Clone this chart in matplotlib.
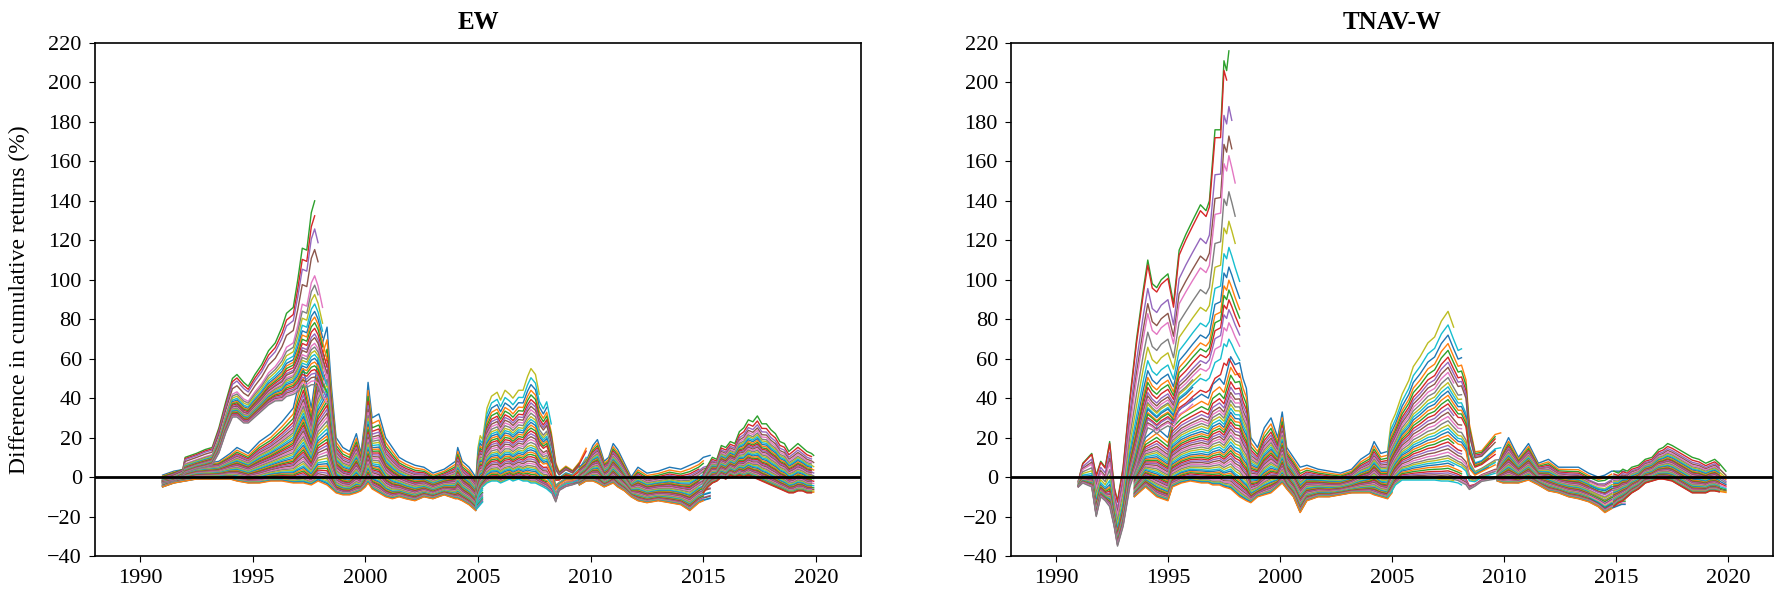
import numpy as np
import matplotlib.pyplot as plt

plt.rcParams['font.family'] = 'serif'
plt.rcParams['font.serif'] = ['Liberation Serif', 'DejaVu Serif']

# ---------------- EW panel ----------------
# upper fan: lines that stop around 1998
ew_fan_years = [1991.0, 1991.5, 1991.9, 1992.0, 1992.5, 1992.9, 1993.2, 1993.5, 1993.8, 1994.1,
                1994.3, 1994.6, 1994.8, 1995.1, 1995.4, 1995.7, 1996.0, 1996.3, 1996.5, 1996.8,
                1997.0, 1997.2, 1997.4, 1997.6, 1997.75, 1997.9, 1998.1, 1998.3]
ew_fan_top = [0, 2, 4, 10, 12, 14, 15, 25, 38, 50, 52, 48, 46, 52, 57, 64, 68, 76, 83, 86,
              100, 116, 115, 134, 140, 132, 118, 100]
ew_fan_bot = [-3, -2, 0, 2, 4, 5, 6, 12, 22, 30, 30, 27, 27, 30, 33, 36, 38, 38, 40, 41,
              42, 45, 44, 45, 45, 44, 38, 35]
ew_fan_levels = [1.0, 0.92, 0.85, 0.74, 0.6, 0.55, 0.5, 0.45, 0.41, 0.38, 0.35, 0.32, 0.29,
                 0.27, 0.24, 0.22, 0.2, 0.18, 0.16, 0.14, 0.12, 0.1, 0.08, 0.06, 0.04, 0.02]
ew_fan_ends = [1997.75, 1997.85, 1997.95, 1998.0, 1998.1, 1998.05, 1998.15, 1998.2, 1998.25,
               1998.3, 1998.2, 1998.3, 1998.25, 1998.3, 1998.3, 1998.2, 1998.1, 1998.3, 1998.25,
               1998.2, 1998.3, 1998.15, 1998.3, 1998.25, 1998.3, 1998.2]

# main band 1991-2005
ew_b1_years = [1991.0, 1991.5, 1992.0, 1992.5, 1993.0, 1993.5, 1994.0, 1994.3, 1994.8, 1995.3,
               1995.8, 1996.3, 1996.8, 1997.0, 1997.25, 1997.6, 1997.9, 1998.3, 1998.5, 1998.7,
               1999.0, 1999.3, 1999.6, 1999.8, 2000.0, 2000.12, 2000.3, 2000.6, 2000.9, 2001.2,
               2001.5, 2001.8, 2002.2, 2002.6, 2003.0, 2003.5, 2004.0, 2004.1, 2004.3, 2004.6,
               2004.9, 2005.2]
ew_b1_top = [1, 3, 4, 6, 7, 8, 12, 15, 12, 18, 22, 28, 35, 45, 55, 35, 60, 76, 45, 20,
             15, 13, 22, 12, 30, 48, 30, 32, 20, 15, 10, 8, 6, 5, 2, 4, 8, 15, 8, 5, 0, 5]
ew_b1_bot = [-5, -3, -2, -1, -1, -1, -1, -2, -3, -3, -2, -2, -3, -3, -3, -4, -2, -4, -6, -8,
             -9, -9, -8, -7, -5, -3, -6, -8, -10, -11, -10, -11, -12, -10, -11, -9, -11, -11, -12, -14,
             -17, -13]
ew_b1_ends = [2005.1, 2004.9, 2005.3, 2005.0, 2005.2]

# band 2005-2010
ew_b2_years = [2004.9, 2005.0, 2005.1, 2005.2, 2005.4, 2005.6, 2005.85, 2006.0, 2006.2, 2006.4,
               2006.55, 2006.8, 2007.0, 2007.2, 2007.35, 2007.55, 2007.72, 2007.9, 2008.05, 2008.25,
               2008.45, 2008.6, 2008.9, 2009.2, 2009.5, 2009.8]
ew_b2_top = [-2, 15, 21, 19, 35, 41, 43, 39, 44, 42, 40, 44, 44, 51, 55, 52, 42, 38, 42, 30,
             12, 5, 8, 5, 10, 18]
ew_b2_bot = [-15, -10, -7, -5, -3, -2, -2, -3, -2, -1, -2, -1, -2, -2, -3, -3, -4, -5, -6, -8,
             -13, -7, -5, -4, -3, 0]
ew_b2_ends = [2007.75, 2008.3, 2008.1, 2009.8, 2009.6, 2009.85, 2009.4, 2009.7]

# band 2010-2015
ew_b3_years = [2009.5, 2009.8, 2010.1, 2010.3, 2010.6, 2010.8, 2011.0, 2011.2, 2011.5, 2011.8,
               2012.1, 2012.5, 2013.0, 2013.5, 2014.0, 2014.4, 2014.8, 2015.0, 2015.3]
ew_b3_top = [5, 8, 16, 19, 8, 10, 17, 14, 7, 0, 5, 2, 3, 5, 4, 6, 8, 10, 11]
ew_b3_bot = [-4, -2, -2, -3, -5, -4, -3, -5, -7, -10, -12, -13, -12, -13, -14, -17, -13, -12, -11]
ew_b3_ends = [2015.3, 2015.1, 2015.25, 2014.9, 2015.35]

# band 2015-2020
ew_b4_years = [2015.0, 2015.2, 2015.4, 2015.6, 2015.8, 2016.0, 2016.2, 2016.4, 2016.6, 2016.8,
               2017.0, 2017.2, 2017.4, 2017.6, 2017.8, 2018.0, 2018.2, 2018.4, 2018.6, 2018.8,
               2019.0, 2019.2, 2019.4, 2019.6, 2019.8, 2019.9]
ew_b4_top = [2, 6, 10, 9, 16, 15, 18, 17, 23, 25, 29, 28, 31, 27, 27, 24, 22, 18, 17, 13,
             15, 17, 15, 13, 12, 11]
ew_b4_bot = [-8, -5, -3, -2, 0, -1, 1, 0, 1, 0, 1, 0, -1, -2, -3, -4, -5, -6, -7, -8,
             -8, -7, -7, -8, -8, -8]
ew_b4_ends = [2019.9, 2019.8, 2019.85]

# ---------------- TNAV-W panel ----------------
tn_fan_years = [1991.0, 1991.2, 1991.6, 1991.8, 1992.0, 1992.2, 1992.4, 1992.6, 1992.75, 1993.0,
                1993.3, 1993.6, 1993.9, 1994.1, 1994.3, 1994.5, 1994.7, 1995.0, 1995.25, 1995.5,
                1995.8, 1996.1, 1996.45, 1996.7, 1996.85, 1997.1, 1997.35, 1997.5, 1997.62, 1997.72,
                1997.85, 1998.0, 1998.2, 1998.5]
tn_fan_top = [-2, 7, 12, 1, 8, 5, 18, -5, -12, 5, 40, 70, 95, 110, 98, 96, 100, 103, 88, 115,
              123, 130, 138, 135, 140, 176, 176, 211, 206, 216, 208, 198, 185, 165]
tn_fan_bot = [-5, -3, -5, -20, -10, -12, -15, -25, -35, -25, -5, 5, 18, 25, 24, 22, 24, 26, 24, 30,
              32, 35, 38, 37, 38, 42, 44, 48, 47, 50, 48, 45, 42, 35]
tn_fan_levels = [1.0, 0.97, 0.83, 0.74, 0.68, 0.57, 0.48, 0.4, 0.34, 0.3, 0.27, 0.24, 0.21,
                 0.19, 0.17, 0.15, 0.14, 0.12, 0.11, 0.09, 0.08, 0.06, 0.05, 0.03, 0.02, 0.0]
tn_fan_ends = [1997.72, 1997.7, 1997.9, 1997.95, 1998.0, 1998.1, 1998.15, 1998.23, 1998.3,
               1998.35, 1998.41, 1998.4, 1998.41, 1996.45, 1998.3, 1996.4, 1996.45, 1998.4,
               1996.35, 1996.4, 1995.3, 1998.2, 1996.4, 1995.3, 1996.3, 1995.3]

tn_b1_years = [1993.5, 1994.0, 1994.5, 1995.0, 1995.2, 1995.6, 1996.0, 1996.5, 1996.8, 1997.0,
               1997.3, 1997.5, 1997.8, 1998.0, 1998.2, 1998.35, 1998.5, 1998.7, 1999.0, 1999.3,
               1999.6, 1999.9, 2000.1, 2000.3, 2000.6, 2000.9, 2001.2, 2001.7, 2002.2, 2002.7,
               2003.2, 2003.6, 2004.0, 2004.2, 2004.5, 2004.8, 2005.0]
tn_b1_top = [5, 20, 25, 20, 30, 35, 38, 42, 40, 47, 50, 47, 61, 57, 58, 50, 45, 20, 15, 25,
             30, 20, 33, 15, 10, 5, 6, 4, 3, 2, 4, 9, 12, 18, 12, 13, 15]
tn_b1_bot = [-10, -5, -10, -12, -5, -3, -2, -3, -3, -4, -4, -5, -6, -8, -10, -11, -12, -13, -10, -9,
             -8, -5, -3, -6, -10, -18, -12, -10, -10, -9, -8, -8, -8, -9, -10, -11, -8]
tn_b1_ends = [2004.9, 2005.0, 2004.8, 2005.0]

tn_b2_years = [2004.8, 2004.95, 2005.15, 2005.45, 2005.75, 2005.95, 2006.25, 2006.6, 2006.9, 2007.2,
               2007.5, 2007.75, 2007.95, 2008.1, 2008.3, 2008.45, 2008.7, 2009.0, 2009.3, 2009.6,
               2009.85]
tn_b2_top = [13, 27, 32, 42, 49, 56, 61, 68, 71, 79, 84, 76, 70, 71, 62, 35, 17, 17, 22, 27, 28]
tn_b2_bot = [-10, -8, -4, -1.5, -1.5, -1.5, -1.5, -1.5, -1.5, -2, -2, -2.5, -3, -4, -5, -7, -5,
             -2.5, -2, -1.5, -1.5]
tn_b2_ends = [2007.75, 2008.27, 2008.2, 2009.85, 2009.6, 2009.8, 2009.4, 2009.7]

tn_b3_years = [2009.7, 2009.95, 2010.2, 2010.64, 2011.09, 2011.53, 2011.98, 2012.43, 2012.88, 2013.32,
               2013.77, 2014.2, 2014.5, 2014.8, 2015.25, 2015.4]
tn_b3_top = [6, 14, 20, 10, 17, 7, 9, 5, 5, 5, 2, 0, 1, 3, 3, 3]
tn_b3_bot = [-2, -3, -3, -3, -1.5, -4, -7, -8, -10, -11, -12.5, -15, -18, -16, -14, -14]
tn_b3_ends = [2015.4, 2015.2, 2015.3, 2014.0]

tn_b4_years = [2014.9, 2015.1, 2015.3, 2015.5, 2015.7, 2016.0, 2016.3, 2016.6, 2016.9, 2017.1,
               2017.3, 2017.5, 2017.8, 2018.1, 2018.4, 2018.7, 2019.0, 2019.2, 2019.4, 2019.6, 2019.9]
tn_b4_top = [3, 2, 4, 3, 5, 6, 9, 10, 14, 15, 17, 16, 14, 12, 10, 9, 7, 8, 9, 7, 3]
tn_b4_bot = [-15, -13, -12, -10, -8, -6, -3, -2, -1, -1, -1.5, -2, -4, -6, -8, -8, -8, -7, -7, -7.5, -8]
tn_b4_ends = [2019.9, 2019.85, 2019.8]

# relative position of each line inside a band (1 = upper edge, 0 = lower edge)
band_levels = [1.0, 0.92, 0.86, 0.81, 0.77, 0.73, 0.7, 0.67, 0.64, 0.61, 0.58, 0.555, 0.53,
               0.505, 0.48, 0.455, 0.43, 0.405, 0.38, 0.355, 0.33, 0.31, 0.29, 0.27, 0.25, 0.23,
               0.21, 0.19, 0.17, 0.15, 0.135, 0.12, 0.105, 0.09, 0.075, 0.06, 0.048, 0.036,
               0.026, 0.017, 0.009, 0.0]


def draw_group(ax, years, top, bot, levels, ends):
    years = np.array(years, dtype=float)
    top = np.array(top, dtype=float)
    bot = np.array(bot, dtype=float)
    for i, lev in enumerate(levels):
        end = ends[i % len(ends)]
        keep = years <= end
        x = years[keep]
        y = bot[keep] + lev * (top[keep] - bot[keep])
        ax.plot(x, y, lw=1.0)


fig = plt.figure(figsize=(17.76, 5.92), dpi=100)
ax1 = fig.add_axes([0.0535, 0.0608, 0.4313, 0.8666])
ax2 = fig.add_axes([0.5693, 0.0608, 0.4290, 0.8666])

draw_group(ax1, ew_b1_years, ew_b1_top, ew_b1_bot, band_levels, ew_b1_ends)
draw_group(ax1, ew_fan_years, ew_fan_top, ew_fan_bot, ew_fan_levels, ew_fan_ends)
draw_group(ax1, ew_b2_years, ew_b2_top, ew_b2_bot, band_levels, ew_b2_ends)
draw_group(ax1, ew_b3_years, ew_b3_top, ew_b3_bot, band_levels, ew_b3_ends)
draw_group(ax1, ew_b4_years, ew_b4_top, ew_b4_bot, band_levels, ew_b4_ends)

draw_group(ax2, tn_b1_years, tn_b1_top, tn_b1_bot, band_levels, tn_b1_ends)
draw_group(ax2, tn_fan_years, tn_fan_top, tn_fan_bot, tn_fan_levels, tn_fan_ends)
draw_group(ax2, tn_b2_years, tn_b2_top, tn_b2_bot, band_levels, tn_b2_ends)
draw_group(ax2, tn_b3_years, tn_b3_top, tn_b3_bot, band_levels, tn_b3_ends)
draw_group(ax2, tn_b4_years, tn_b4_top, tn_b4_bot, band_levels, tn_b4_ends)

for ax, title in [(ax1, 'EW'), (ax2, 'TNAV-W')]:
    ax.axhline(0, color='black', lw=2, zorder=5)
    ax.set_xlim(1988, 2022)
    ax.set_ylim(-40, 220)
    ax.set_xticks(range(1990, 2021, 5))
    ax.set_yticks(range(-40, 221, 20))
    ax.tick_params(labelsize=16, length=4.5, pad=5)
    ax.set_title(title, fontsize=18, fontweight='bold', pad=10)
    for s in ax.spines.values():
        s.set_linewidth(1.2)

ax1.set_ylabel('Difference in cumulative returns (%)', fontsize=17, labelpad=12)

fig.savefig('out.png', dpi=100)
